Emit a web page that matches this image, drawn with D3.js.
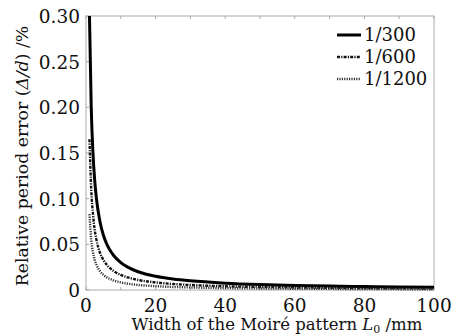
<!DOCTYPE html>
<html>
<head>
<meta charset="utf-8">
<script src="https://cdn.jsdelivr.net/npm/d3@7"></script>
<style>
  body { margin: 0; background: #fff; }
</style>
</head>
<body>
<div id="chart"></div>
<script>
const widths = [1, 1.5, 2, 2.5, 3, 4, 5, 6, 7, 8, 10, 12, 15, 20, 25, 30, 40, 50, 60, 70, 80, 90, 100];
const err300 = [0.300, 0.200, 0.150, 0.120, 0.100, 0.075, 0.060, 0.050, 0.043, 0.0375, 0.030, 0.025, 0.020, 0.015, 0.012, 0.010, 0.0075, 0.006, 0.005, 0.0043, 0.0038, 0.0033, 0.003];
const err600 = [0.165, 0.110, 0.083, 0.066, 0.055, 0.041, 0.033, 0.0275, 0.0236, 0.0206, 0.0165, 0.0138, 0.011, 0.0083, 0.0066, 0.0055, 0.0041, 0.0033, 0.0028, 0.0024, 0.0021, 0.0018, 0.0017];
const err1200 = [0.083, 0.055, 0.0415, 0.033, 0.0277, 0.0208, 0.0166, 0.0138, 0.0119, 0.0104, 0.0083, 0.0069, 0.0055, 0.0042, 0.0033, 0.0028, 0.0021, 0.0017, 0.0014, 0.0012, 0.0010, 0.0009, 0.0008];
const seriesNames = ['1/300', '1/600', '1/1200'];
const xTicks = [0, 20, 40, 60, 80, 100];
const yTicks = [0, 0.05, 0.10, 0.15, 0.20, 0.25, 0.30];
const yTickLabels = ['0', '0.05', '0.10', '0.15', '0.20', '0.25', '0.30'];

const width = 469, height = 336;
const margin = { top: 16, right: 35, bottom: 46, left: 86 };
const serif = "'DejaVu Serif', serif";

const svg = d3.select('#chart').append('svg')
  .attr('width', width)
  .attr('height', height)
  .style('font-family', serif);

const x = d3.scaleLinear().domain([0, 100]).range([margin.left, width - margin.right]);
const y = d3.scaleLinear().domain([0, 0.30]).range([height - margin.bottom, margin.top]);

// frame
svg.append('rect')
  .attr('x', x(0)).attr('y', y(0.30))
  .attr('width', x(100) - x(0)).attr('height', y(0) - y(0.30))
  .attr('fill', 'none').attr('stroke', '#aaa').attr('stroke-width', 1);

// inner ticks
const minorX = d3.range(0, 101, 10);
const tickG = svg.append('g').attr('stroke', '#aaa').attr('stroke-width', 1);
minorX.forEach(v => {
  tickG.append('line').attr('x1', x(v)).attr('x2', x(v)).attr('y1', y(0)).attr('y2', y(0) - 3);
  tickG.append('line').attr('x1', x(v)).attr('x2', x(v)).attr('y1', y(0.30)).attr('y2', y(0.30) + 3);
});
yTicks.forEach(v => {
  tickG.append('line').attr('x1', x(0)).attr('x2', x(0) + 3).attr('y1', y(v)).attr('y2', y(v));
});

// tick labels
svg.append('g').selectAll('text').data(xTicks).enter().append('text')
  .attr('x', d => x(d)).attr('y', y(0) + 22)
  .attr('text-anchor', 'middle')
  .style('font-family', serif).style('font-size', '18.5px').attr('fill', '#111')
  .text(d => d);

svg.append('g').selectAll('text').data(yTicks).enter().append('text')
  .attr('x', x(0) - 6).attr('y', d => y(d) + 7)
  .attr('text-anchor', 'end')
  .style('font-family', serif).style('font-size', '18.5px').attr('fill', '#111')
  .text((d, i) => yTickLabels[i]);

// curves
const styles = [
  { w: 3, dash: null, c: '#000' },
  { w: 2.4, dash: '3,1.2,1.2,1.2', c: '#111' },
  { w: 2.4, dash: '1.2,1.2', c: '#333' }
];
const allSeries = [err300, err600, err1200];

const line = d3.line()
  .x(d => x(d[0]))
  .y(d => y(d[1]))
  .curve(d3.curveMonotoneX);

allSeries.forEach((vals, i) => {
  svg.append('path')
    .datum(widths.map((w, j) => [w, vals[j]]))
    .attr('d', line)
    .attr('fill', 'none')
    .attr('stroke', styles[i].c)
    .attr('stroke-width', styles[i].w)
    .attr('stroke-dasharray', styles[i].dash);
});

// legend
const legend = svg.append('g');
seriesNames.forEach((name, i) => {
  const ly = 35 + i * 22;
  legend.append('line')
    .attr('x1', 337).attr('x2', 361).attr('y1', ly).attr('y2', ly)
    .attr('stroke', styles[i].c)
    .attr('stroke-width', styles[i].w)
    .attr('stroke-dasharray', styles[i].dash);
  legend.append('text')
    .attr('x', 364).attr('y', ly + 6)
    .style('font-family', serif).style('font-size', '18px').attr('fill', '#111')
    .text(name);
});

// axis titles
const xt = svg.append('text')
  .attr('x', 277).attr('y', 330)
  .attr('text-anchor', 'middle')
  .style('font-family', serif).style('font-size', '16.5px').attr('fill', '#111');
xt.append('tspan').text('Width of the Moiré pattern ');
xt.append('tspan').style('font-style', 'italic').text('L');
xt.append('tspan').attr('dy', 3).style('font-size', '11px').text('0');
xt.append('tspan').attr('dy', -3).text(' /mm');

const yt = svg.append('text')
  .attr('transform', `translate(28,${(y(0) + y(0.30)) / 2 + 3}) rotate(-90)`)
  .attr('text-anchor', 'middle')
  .style('font-family', serif).style('font-size', '17.3px').attr('fill', '#111');
yt.append('tspan').text('Relative period error (');
yt.append('tspan').style('font-style', 'italic').text('Δ/d');
yt.append('tspan').text(') /%');
</script>
</body>
</html>
